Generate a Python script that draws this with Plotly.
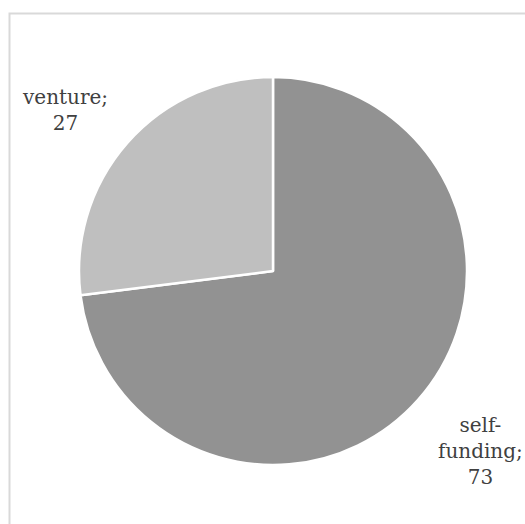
import plotly.graph_objects as go

categories = ["self-funding", "venture"]
values = [73, 27]
colors = ["#929292", "#bfbfbf"]

W, H = 525, 524
cx, cy, r = 273, 271, 194

fig = go.Figure(go.Pie(
    labels=categories,
    values=values,
    sort=False,
    direction="clockwise",
    rotation=0,
    marker=dict(colors=colors, line=dict(color="white", width=2.5)),
    textinfo="none",
    hoverinfo="label+value",
    showlegend=False,
    domain=dict(x=[(cx - r) / W, (cx + r) / W], y=[(H - cy - r) / H, (H - cy + r) / H]),
))

font = dict(family="DejaVu Serif", size=20, color="#404040")
label_pos = {"self-funding": (480, 451, ["self-", "funding;"]), "venture": (65, 110, ["venture;"])}
for cat, val in zip(categories, values):
    x, y, lines = label_pos[cat]
    text = "<br>".join(lines + [str(val)])
    fig.add_annotation(x=x / W, y=1 - y / H, xref="paper", yref="paper", text=text,
                       showarrow=False, font=font, align="center", xanchor="center", yanchor="middle")

fig.add_shape(type="rect", xref="paper", yref="paper",
              x0=9.5 / W, y0=-0.2, x1=1.2, y1=1 - 13.5 / H,
              line=dict(color="#d9d9d9", width=2), fillcolor="rgba(0,0,0,0)")

fig.update_layout(width=W, height=H, margin=dict(l=0, r=0, t=0, b=0),
                  paper_bgcolor="white", plot_bgcolor="white")
fig.write_html("out.html")
